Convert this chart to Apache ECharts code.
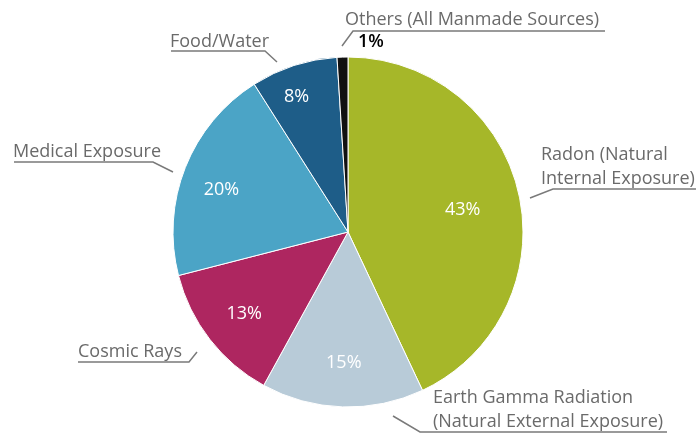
<!DOCTYPE html>
<html>
<head>
<meta charset="utf-8">
<script src="https://cdn.jsdelivr.net/npm/echarts@6/dist/echarts.min.js"></script>
<style>
html, body { margin: 0; padding: 0; background: #fff; }
#dose-chart { width: 699px; height: 435px; }
</style>
</head>
<body>
<div id="dose-chart"></div>
<script>
var sources = ['Radon', 'Earth Gamma', 'Cosmic Rays', 'Medical', 'Food/Water', 'Others'];
var sourceLabels = [
	'Radon (Natural\nInternal Exposure)',
	'Earth Gamma Radiation\n(Natural External Exposure)',
	'Cosmic Rays',
	'Medical Exposure',
	'Food/Water',
	'Others (All Manmade Sources)'
];
var shares = [43, 15, 13, 20, 8, 1];
var colors = ['#a6b729', '#b8cbd8', '#ae2660', '#4ba4c6', '#1e5d88', '#111111'];

// text anchor (bottom-left) + leader/underline for each outer label
var spots = [
	{ x: 541, y: 191, line: [[530, 198], [553, 189], [696, 189]] },
	{ x: 433, y: 434, line: [[393, 416], [420, 432], [667, 432]] },
	{ x: 78, y: 364, line: [[197, 352], [189, 362], [78, 362]] },
	{ x: 13, y: 164, line: [[173, 172], [153, 162], [14, 162]] },
	{ x: 170, y: 54, line: [[277, 62], [265, 51], [171, 51]] },
	{ x: 345, y: 32, line: [[342, 46], [353, 31], [605, 31]] }
];
// nudges for the percent labels inside the slices
var pctShift = [[-16, 7], [0, -3], [2, 0], [-2, 7], [-10, -8], [0, 0]];

var chart = echarts.init(document.getElementById('dose-chart'));
var font = '"Open Sans", "Noto Sans", sans-serif';

var outerData = sources.map(function (n, i) {
	return { name: n, value: shares[i], itemStyle: { color: colors[i] } };
});
var innerData = sources.map(function (n, i) {
	var d = { name: n, value: shares[i] };
	if (n === 'Others') {
		d.label = { color: '#000', fontWeight: 600 };
	}
	return d;
});

var option = {
	animation: false,
	series: [
		{
			type: 'pie',
			center: [348, 232],
			radius: 175,
			startAngle: 90,
			silent: true,
			itemStyle: { borderColor: '#fff', borderWidth: 1 },
			label: {
				show: true,
				fontFamily: font,
				fontSize: 18,
				lineHeight: 24,
				color: '#6a6a6a',
				overflow: 'none',
				formatter: function (p) { return sourceLabels[p.dataIndex]; }
			},
			labelLine: { show: true, lineStyle: { color: '#7a7a7a', width: 1.5 } },
			labelLayout: function (p) {
				var s = spots[p.dataIndex];
				return { x: s.x, y: s.y, align: 'left', verticalAlign: 'bottom', labelLinePoints: s.line };
			},
			data: outerData
		},
		{
			type: 'pie',
			center: [348, 232],
			radius: [0, 262],
			startAngle: 90,
			silent: true,
			itemStyle: { color: 'transparent' },
			label: {
				show: true,
				position: 'inside',
				fontFamily: font,
				fontSize: 18,
				color: '#fff',
				formatter: '{c}%'
			},
			labelLayout: function (p) {
				if (p.dataIndex === 5) {
					return { x: 358, y: 42, align: 'left', verticalAlign: 'middle' };
				}
				var d = pctShift[p.dataIndex];
				return { dx: d[0], dy: d[1] };
			},
			data: innerData
		}
	]
};

option && chart.setOption(option);
</script>
</body>
</html>
